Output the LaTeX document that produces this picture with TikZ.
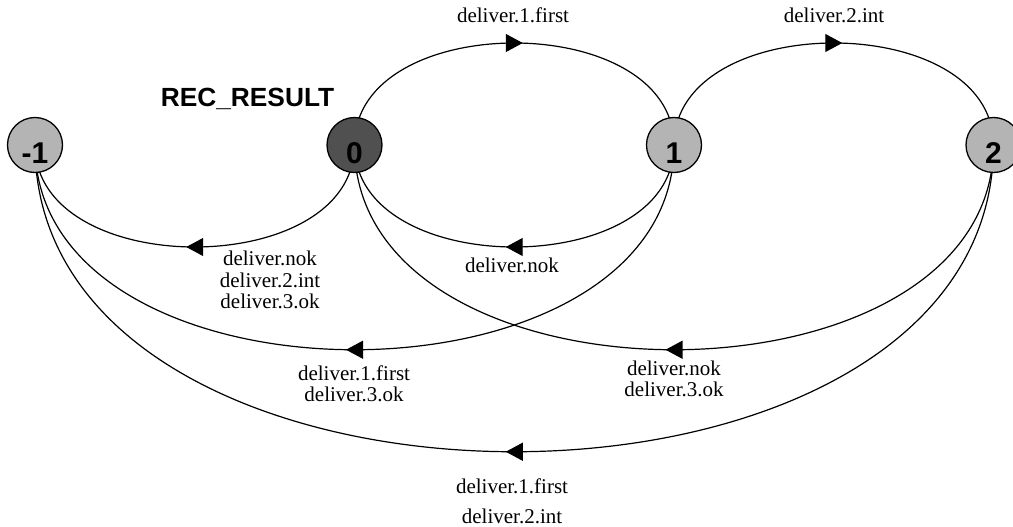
\documentclass[tikz,border=0pt]{standalone}
\usepackage{fontspec}
\setmainfont{Liberation Serif}
\setsansfont{Liberation Sans}
\usetikzlibrary{arrows.meta,decorations.markings,backgrounds}
\definecolor{statelight}{RGB}{180,180,180}
\definecolor{statedark}{RGB}{80,80,80}
\begin{document}
\begin{tikzpicture}[x=1pt,y=-1pt,
  state/.style={circle,draw=black,line width=1.3pt,minimum size=55pt,inner sep=0pt,
    font=\sffamily\bfseries\fontsize{30}{30}\selectfont,text height=36pt,text depth=0pt},
  lightstate/.style={state,fill=statelight},
  darkstate/.style={state,fill=statedark},
  trans/.style={line width=1.2pt,postaction={decorate},
    decoration={markings,mark=at position 0.5 with {\arrow[xshift=8.5pt]{Triangle[length=17pt,width=18pt]}}}},
  lbl/.style={font=\fontsize{21}{21.5}\selectfont,align=center,inner sep=0pt},
  lblwide/.style={font=\fontsize{21}{30}\selectfont,align=center,inner sep=0pt}
]
\useasboundingbox (0,0) rectangle (1013,527);

% states
\node[lightstate] (sm1) at (35,145) {-1};
\node[darkstate]  (s0)  at (354.5,145) {0};
\node[lightstate] (s1)  at (674,145) {1};
\node[lightstate] (s2)  at (993.5,145) {2};

\node[font=\sffamily\bfseries\fontsize{26.3}{26.3}\selectfont,inner sep=0pt] (title) at (247.5,99) {REC\_RESULT};

% transitions, drawn under the states
\begin{scope}[on background layer]
\draw[trans] (s0.center) .. controls +(0,-136) and +(0,-136) .. (s1.center);
\draw[trans] (s1.center) .. controls +(0,-136) and +(0,-136) .. (s2.center);
\draw[trans] (s0.center) .. controls +(0,136) and +(0,136) .. (sm1.center);
\draw[trans] (s1.center) .. controls +(0,136) and +(0,136) .. (s0.center);
\draw[trans] (s1.center) .. controls +(0,273) and +(0,273) .. (sm1.center);
\draw[trans] (s2.center) .. controls +(0,273) and +(0,273) .. (s0.center);
\draw[trans] (s2.center) .. controls +(0,409) and +(0,409) .. (sm1.center);
\end{scope}

% transition labels
\node[lbl] (l01)   at (513,15)  {deliver.1.first};
\node[lbl] (l12)   at (834,15)  {deliver.2.int};
\node[lbl] (l0m1)  at (270,280) {deliver.nok\\deliver.2.int\\deliver.3.ok};
\node[lbl] (l10)   at (512,265) {deliver.nok};
\node[lbl] (l1m1)  at (354,384) {deliver.1.first\\deliver.3.ok};
\node[lbl] (l20)   at (674,379) {deliver.nok\\deliver.3.ok};
\node[lblwide] (l2m1) at (512,501) {deliver.1.first\\deliver.2.int};
\end{tikzpicture}
\end{document}
